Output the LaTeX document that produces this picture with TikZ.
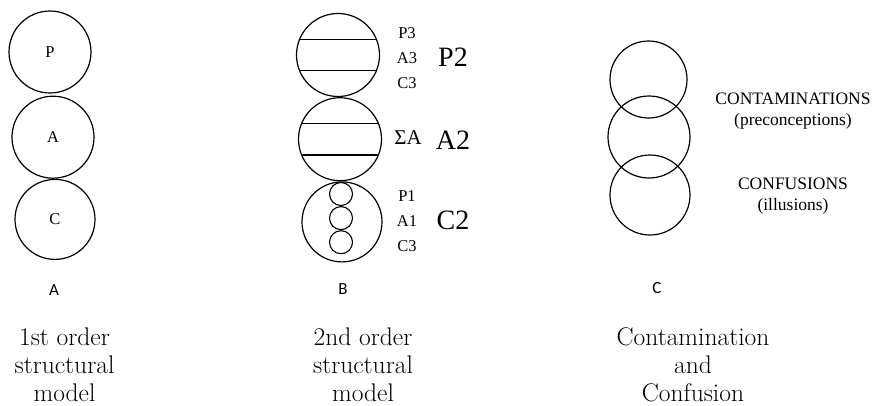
\documentclass[tikz,border=0pt]{standalone}
\usepackage{fontspec}
\usetikzlibrary{positioning}
\newfontfamily\timesfont{Liberation Serif}
\newfontfamily\calibfont{Carlito}
\tikzset{
  ring/.style={draw=black,circle,line width=1.2pt,inner sep=0pt,minimum size=82pt,font=\timesfont\fontsize{16.5}{16.5}\selectfont},
  minring/.style={draw=black,circle,line width=1.1pt,inner sep=0pt,minimum size=23pt},
  chord/.style={draw=black,line width=1.2pt},
  small/.style={font=\timesfont\fontsize{16.5}{25}\selectfont,align=center},
  big/.style={font=\timesfont\fontsize{28}{28}\selectfont},
  side/.style={font=\timesfont\fontsize{17.5}{21}\selectfont,align=center},
  tag/.style={font=\calibfont\fontsize{17}{17}\selectfont},
  caption/.style={font=\fontsize{25.5}{28}\selectfont,align=center}
}

\begin{document}
\begin{tikzpicture}[x=1pt,y=-1pt]
  \useasboundingbox (0,0) rectangle (878,405);
  % first order model
  \node[ring] (p) at (50,52) {P};
  \node[ring,below=2pt of p,xshift=3pt] (a) {A};
  \node[ring,minimum size=80pt,below=0pt of a,xshift=2pt] (c) {C};
  \node[tag] (ta) at (54,290) {A};
  \node[caption] (capa) at (64.5,365) {1st order\\structural\\model};

  % second order model
  \node[ring,minimum size=83pt] (p2c) at (338,55) {};
  \node[ring,minimum size=83pt,below=0pt of p2c,xshift=2pt] (a2c) {};
  \node[ring,minimum size=80pt,below=0pt of a2c,xshift=2pt] (c2c) {};
  \draw[chord] (p2c.158) -- (p2c.22);
  \draw[chord] (p2c.-158) -- (p2c.-22);
  \draw[chord] (a2c.158) -- (a2c.22);
  \draw[chord] (a2c.-158) -- (a2c.-22);
  \node[minring] (p1c) at (341,194) {};
  \node[minring,below=0pt of p1c] (a1c) {};
  \node[minring,below=0pt of a1c] (c1c) {};
  \node[small] (p3t) at (407,58) {P3\\A3\\C3};
  \node[big] (p2t) at (453,57) {P2};
  \node[font=\timesfont\fontsize{21}{21}\selectfont] (sat) at (408,138) {ΣA};
  \node[big] (a2t) at (453,140) {A2};
  \node[small] (p1t) at (407,221) {P1\\A1\\C3};
  \node[big] (c2t) at (453,220) {C2};
  \node[tag] (tb) at (343,289) {B};
  \node[caption] (capb) at (363,365) {2nd order\\structural\\model};

  % contamination and confusion
  \node[ring,minimum size=77pt] (top) at (648.5,79.5) {};
  \node[ring] (mid) at (649,137) {};
  \node[ring,minimum size=80pt] (bot) at (650,195) {};
  \node[side] (cont) at (793,111) {CONTAMINATIONS\\(preconceptions)};
  \node[side] (conf) at (793,196) {CONFUSIONS\\(illusions)};
  \node[tag] (tc) at (657,288) {C};
  \node[caption] (capc) at (693,365) {Contamination\\and\\Confusion};
\end{tikzpicture}
\end{document}
